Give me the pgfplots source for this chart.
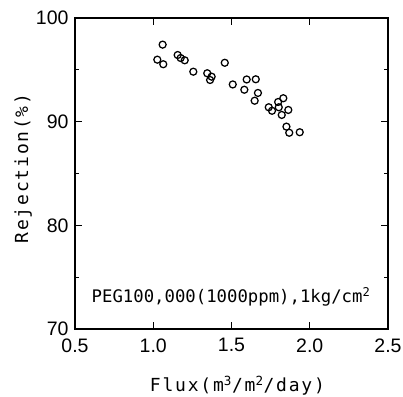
\documentclass[border=0pt]{standalone}
\usepackage{fontspec}
\setmainfont{DejaVu Sans Mono}
\newfontfamily\lbl[LetterSpace=10]{DejaVu Sans Mono}
\newfontfamily\tck{Liberation Sans}
\usepackage{pgfplots}
\pgfplotsset{compat=1.18}
\begin{document}
\begin{tikzpicture}
\begin{axis}[
  at={(0,0)}, anchor=south west,
  scale only axis, width=313bp, height=311bp,
  xmin=0.5, xmax=2.5, ymin=70, ymax=100,
  xtick={0.5,1.0,1.5,2.0,2.5},
  xticklabels={0.5,1.0,1.5,2.0,2.5},
  ytick={70,80,90,100},
  minor ytick={75,85,95},
  tick align=inside,
  major tick length=7bp, minor tick length=4bp,
  axis line style={line width=1.3bp},
  every tick/.style={line width=1.1bp, black},
  /pgf/number format/assume math mode=true,
  ticklabel style={font=\tck\fontsize{19.5bp}{22bp}\selectfont},
  yticklabel style={xshift=-3bp},
  xticklabel style={yshift=-6bp},
  xlabel={Flux(m\textsuperscript{3}/m\textsuperscript{2}/day)},
  ylabel={Rejection(\%)},
  label style={font=\lbl\fontsize{18bp}{21bp}\selectfont},
  xlabel style={at={(axis description cs:0.519,-0.182)}, anchor=center},
  ylabel style={at={(axis description cs:-0.166,0.516)}, anchor=center},
  clip=false,
]
\addplot[only marks, mark=o, mark size=3.5bp, mark options={line width=1.25bp, black, fill=white}] coordinates {
(1.060,97.43) (1.026,95.98) (1.064,95.54) (1.156,96.43) (1.175,96.14)
(1.201,95.92) (1.256,94.82) (1.345,94.67) (1.373,94.34) (1.363,94.02)
(1.457,95.68) (1.508,93.59) (1.597,94.07) (1.655,94.09) (1.582,93.08)
(1.669,92.77) (1.648,92.02) (1.738,91.39) (1.759,91.05) (1.798,91.90)
(1.831,92.26) (1.802,91.39) (1.863,91.13) (1.821,90.65) (1.851,89.52)
(1.869,88.93) (1.936,88.98)
};
\node[font=\fontsize{17.3bp}{20bp}\selectfont, anchor=center] at (axis cs:1.497,73.1) {PEG100,000(1000ppm),1kg/cm\textsuperscript{2}};
\end{axis}
\pgfresetboundingbox
\path (-75bp,-68bp) rectangle (328bp,329bp);
\end{tikzpicture}
\end{document}
